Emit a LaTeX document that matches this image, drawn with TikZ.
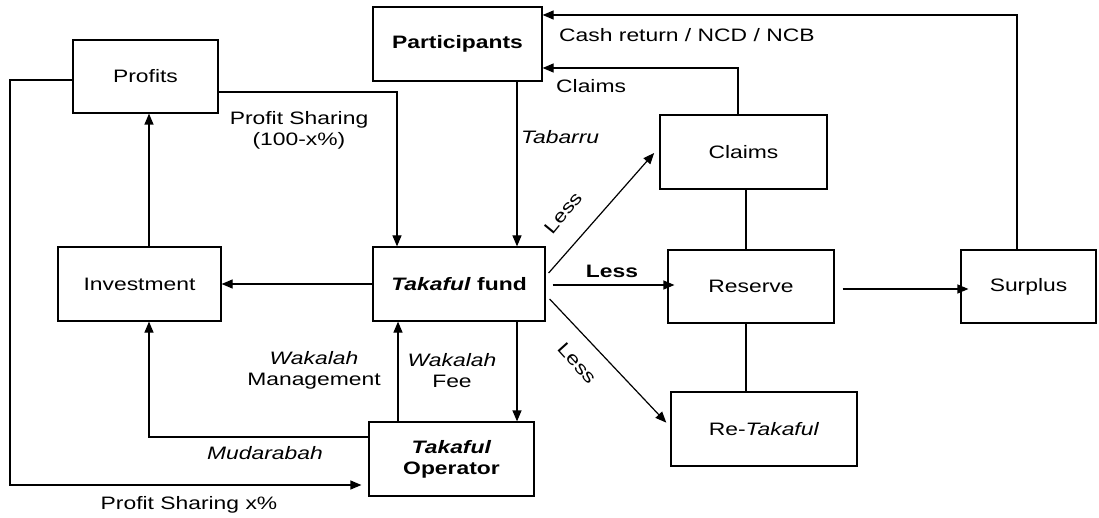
\documentclass[tikz,border=0pt]{standalone}
\usepackage{fontspec}
\setmainfont{Liberation Sans}
\usetikzlibrary{arrows.meta}
% text is set a little wider than the font's natural width
\newcommand{\widetxt}[1]{\scalebox{1.27}[1]{#1}}
\begin{document}
\begin{tikzpicture}[x=1pt,y=-1pt,
  every node/.style={font=\fontsize{18}{21}\selectfont},
  box/.style={draw,line width=1.2pt,inner sep=0pt,align=center},
  conn/.style={line width=1.2pt},
  arr/.style={conn,-{Triangle[length=11pt,width=9pt]}},
  lbl/.style={inner sep=0pt,align=center}]
\useasboundingbox (0,0) rectangle (1099,518);

% boxes
\node[box,minimum width=145pt,minimum height=73pt] (prof) at (145.5,76.5) {\raisebox{-11pt}{\widetxt{Profits}}};
\node[box,minimum width=169pt,minimum height=74pt] (part) at (457.5,44) {\widetxt{\textbf{Participants}}};
\node[box,minimum width=167pt,minimum height=74pt] (clm) at (743.5,152) {\widetxt{Claims}};
\node[box,minimum width=166pt,minimum height=73pt] (res) at (751,286.5) {\raisebox{-10pt}{\widetxt{Reserve}}};
\node[box,minimum width=186pt,minimum height=74pt] (ret) at (764,429) {\raisebox{-11pt}{\widetxt{Re-\textit{Takaful}}}};
\node[box,minimum width=135pt,minimum height=73pt] (sur) at (1028.5,286.5) {\widetxt{Surplus}};
\node[box,minimum width=163pt,minimum height=74pt] (inv) at (139.5,284) {\widetxt{Investment}};
\node[box,minimum width=172pt,minimum height=74pt] (fund) at (459,284) {\widetxt{\textbf{\textit{Takaful} fund}}};
\node[box,minimum width=165pt,minimum height=74pt] (op) at (451.5,459) {\widetxt{\textbf{\textit{Takaful}}}\\\widetxt{\textbf{Operator}}};

\coordinate (lc) at (10,485);

% connectors
\draw[arr] ([xshift=-11.5pt]sur.north) |- ([yshift=29pt]part.east);
\draw[arr] ([xshift=-5.5pt]clm.north) |- ([yshift=-24pt]part.east);
\draw[arr] ([xshift=59.5pt]part.south) -- ([xshift=59.5pt]part.south |- fund.north);
\draw[arr] ([yshift=-15.5pt]prof.east) -| ([xshift=-62pt]fund.north);
\draw[arr,shorten >=7pt] ([yshift=-3.5pt]prof.west) -| (lc) -- (lc -| op.west);
\draw[arr] ([xshift=9.5pt]inv.north) -- ([xshift=9.5pt]inv.north |- prof.south);
\draw[arr] (fund.west) -- (fund.west -| inv.east);
\draw[arr] ([yshift=22pt]op.west) -| ([xshift=9.5pt]inv.south);
\draw[arr] ([xshift=-53.5pt]op.north) -- ([xshift=-53.5pt]op.north |- fund.south);
\draw[arr] ([xshift=58pt]fund.south) -- ([xshift=58pt]fund.south |- op.north);
\draw[arr] ([xshift=7pt,yshift=-1pt]fund.east) -- ([xshift=7pt,yshift=-1pt]fund.east -| res.west);
\draw[arr,shorten >=8pt] ([xshift=3pt,yshift=11pt]fund.east) -- ([yshift=5pt]clm.west);
\draw[arr,shorten >=6pt] ([xshift=4pt,yshift=-15pt]fund.east) -- ([yshift=2pt]ret.west);
\draw[conn] ([xshift=2.5pt]clm.south) -- ([xshift=2.5pt]clm.south |- res.north);
\draw[conn] ([xshift=-5pt]res.south) -- ([xshift=-5pt]res.south |- ret.north);
\draw[arr] ([xshift=8pt,yshift=-2.5pt]res.east) -- ([xshift=8pt,yshift=-2.5pt]res.east -| sur.west);

% labels
\node[lbl,anchor=west] (lcash) at (559,35) {\widetxt{Cash return / NCD / NCB}};
\node[lbl,anchor=west] (lclm) at (556,86) {\widetxt{Claims}};
\node[lbl,anchor=west] (ltab) at (521,137) {\widetxt{\textit{Tabarru}}};
\node[lbl] (lps1) at (299,130) {\widetxt{Profit Sharing}\\\widetxt{(100-x\%)}};
\node[lbl] (lps2) at (189,505) {\widetxt{Profit Sharing x\%}};
\node[lbl] (lmud) at (265,453) {\widetxt{\textit{Mudarabah}}};
\node[lbl] (lwm) at (314,370) {\widetxt{\textit{Wakalah}}\\\widetxt{Management}};
\node[lbl] (lwf) at (452,371) {\widetxt{\textit{Wakalah}}\\\widetxt{Fee}};
\node[lbl] (lless) at (612,271) {\widetxt{\textbf{Less}}};
\node[lbl,rotate=50.5] (llessu) at (563,213) {\widetxt{Less}};
\node[lbl,rotate=-48] (llessd) at (577,363) {\widetxt{Less}};
\end{tikzpicture}
\end{document}
